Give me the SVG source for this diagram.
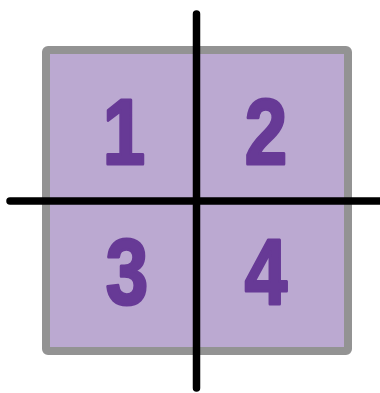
<svg xmlns="http://www.w3.org/2000/svg" width="380" height="393" viewBox="0 0 380 393">
<style>
.num{font-family:"Liberation Sans",Arial,sans-serif;font-weight:bold;font-size:93px;fill:#673a96;stroke:#673a96;stroke-width:3;stroke-linejoin:round;text-anchor:middle}
.axis{stroke:#000;stroke-width:7.5;stroke-linecap:round;fill:none}
</style>
<rect width="380" height="393" fill="#fff"/>
<g id="square">
<rect x="46" y="50" width="302" height="301" rx="2" fill="#bba9d1" stroke="#939393" stroke-width="8"/>
</g>
<g id="q1"><text class="num" transform="translate(124,164) scale(0.82,1)">1</text></g>
<g id="q2"><text class="num" transform="translate(266,164) scale(0.82,1)">2</text></g>
<g id="q3"><text class="num" transform="translate(127,304) scale(0.82,1)">3</text></g>
<g id="q4"><text class="num" transform="translate(266,304) scale(0.82,1)">4</text></g>
<g id="axes">
<line class="axis" x1="196.5" y1="14" x2="196.5" y2="388"/>
<line class="axis" x1="10" y1="201" x2="385" y2="201"/>
</g>
</svg>
